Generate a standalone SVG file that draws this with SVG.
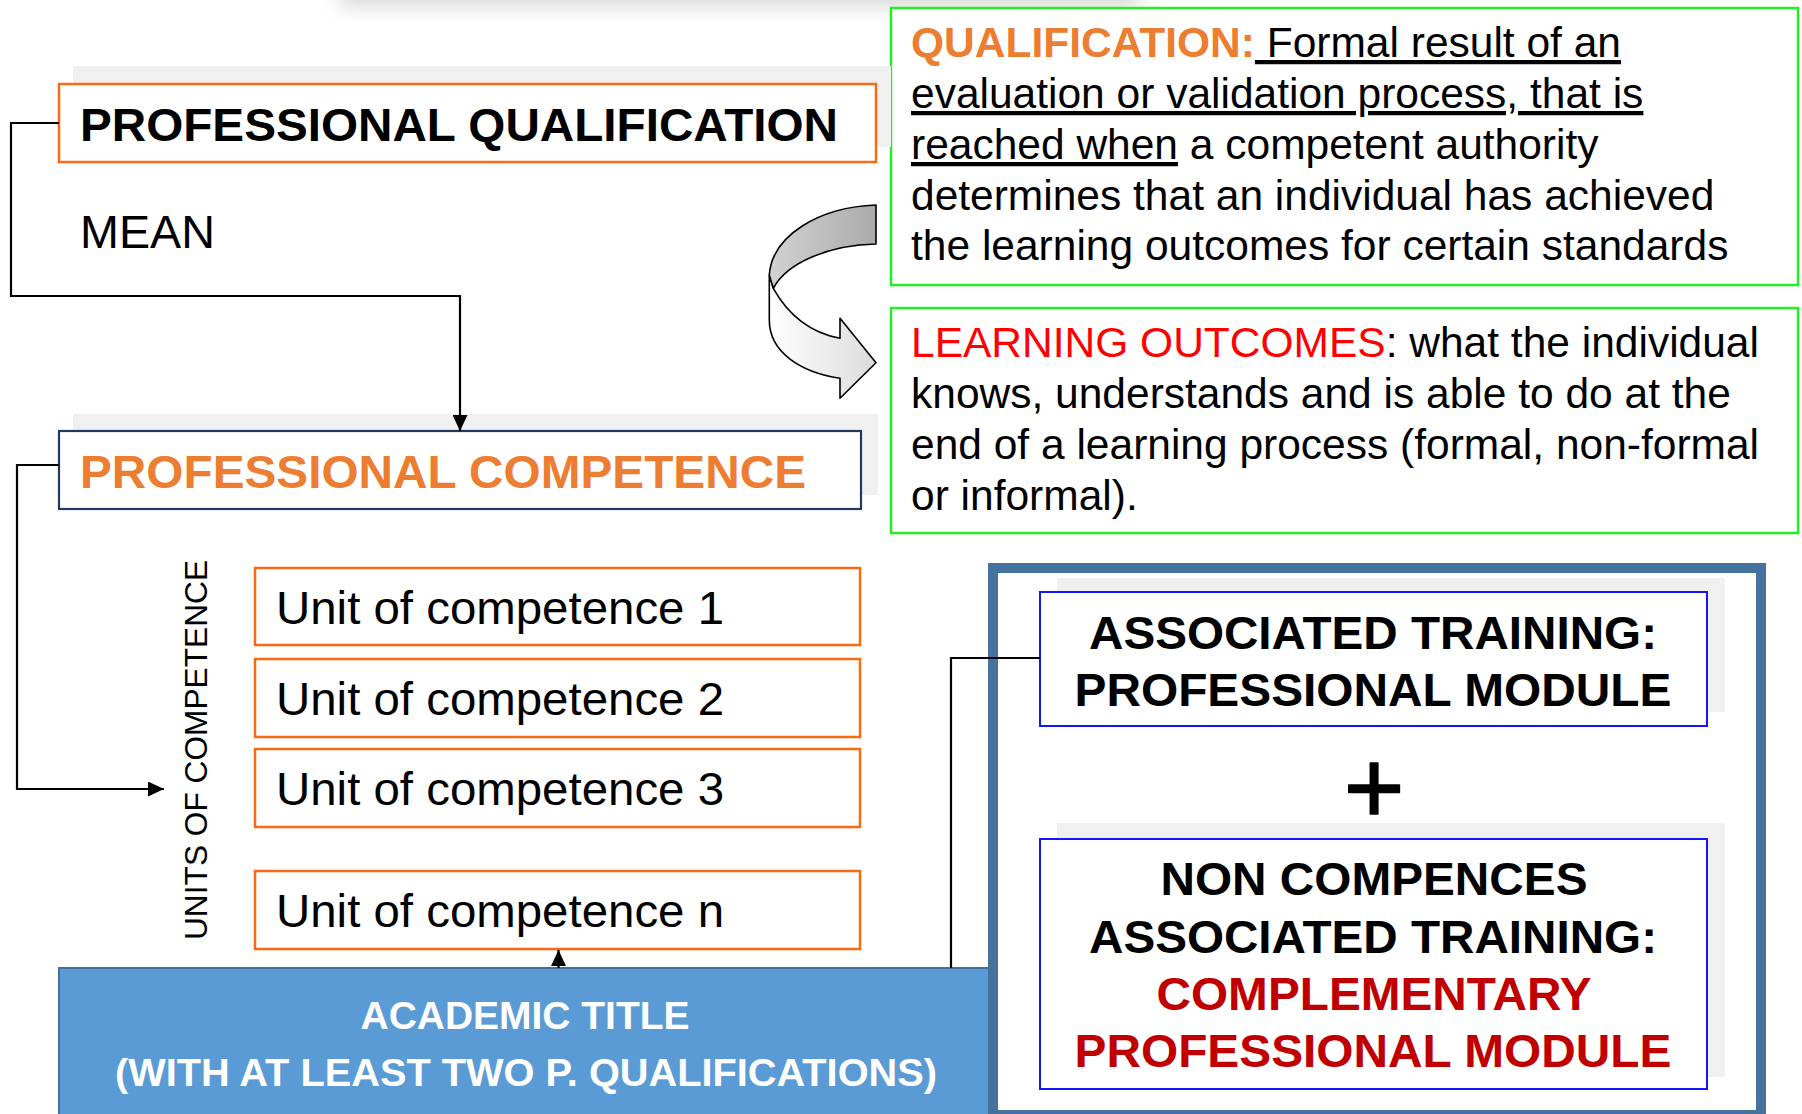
<svg xmlns="http://www.w3.org/2000/svg" width="1802" height="1114" viewBox="0 0 1802 1114">
<defs>
<style>
text{font-family:"Liberation Sans",Arial,sans-serif;}
.b{font-weight:bold;}
.shadow{fill:#F0F0F0;}
.orangebox{fill:#FFFFFF;stroke:#FA6A12;stroke-width:2.5;}
.greenbox{fill:#FFFFFF;stroke:#22F022;stroke-width:2.5;}
.bluebox{fill:#FFFFFF;stroke:#1414FF;stroke-width:2;}
.conn{fill:none;stroke:#000000;stroke-width:2.2;}
.t47{font-size:47px;}
.t42{font-size:42.5px;}
.orange{fill:#ED7D31;}
.dred{fill:#C00000;}
</style>
<marker id="ah" markerUnits="userSpaceOnUse" markerWidth="16" markerHeight="15" refX="16" refY="7.5" orient="auto">
<path d="M0,0 L16,7.5 L0,15 Z" fill="#000000"/>
</marker>
<linearGradient id="gTop" x1="0" y1="0" x2="1" y2="0">
<stop offset="0" stop-color="#D2D2D2"/>
<stop offset="1" stop-color="#ABABAB"/>
</linearGradient>
<linearGradient id="gLow" x1="0" y1="0" x2="1" y2="0">
<stop offset="0" stop-color="#FFFFFF"/>
<stop offset="1" stop-color="#DCDCDC"/>
</linearGradient>
<filter id="blur" x="-20%" y="-200%" width="140%" height="500%">
<feGaussianBlur stdDeviation="9"/>
</filter>
</defs>
<rect width="1802" height="1114" fill="#FFFFFF"/>
<rect x="340" y="-40" width="800" height="48" fill="#DCDCDC" filter="url(#blur)"/>

<g id="qualification-def">
<rect class="greenbox" x="891" y="8" width="907" height="277"/>
<text class="t42" x="911" y="57"><tspan class="b orange">QUALIFICATION:</tspan><tspan text-decoration="underline"> Formal result of an</tspan></text>
<text class="t42" x="911" y="108" text-decoration="underline">evaluation or validation process, that is</text>
<text class="t42" x="911" y="159"><tspan text-decoration="underline">reached when</tspan> a competent authority</text>
<text class="t42" x="911" y="210">determines that an individual has achieved</text>
<text class="t42" x="911" y="260">the learning outcomes for certain standards</text>
</g>

<g id="learning-outcomes-def">
<rect class="greenbox" x="891" y="308" width="907" height="225"/>
<text class="t42" x="911" y="357"><tspan fill="#FF0000">LEARNING OUTCOMES</tspan>: what the individual</text>
<text class="t42" x="911" y="408">knows, understands and is able to do at the</text>
<text class="t42" x="911" y="459">end of a learning process (formal, non-formal</text>
<text class="t42" x="911" y="510">or informal).</text>
</g>

<g id="curved-arrow" stroke="#000000" stroke-width="1.6" stroke-linejoin="round">
<path d="M840,338.3 L840,318.3 L876,362.7 L840,398.3 L840,378.3 C800,372 769.3,352 769.3,320 L769.3,275 L773.3,288.3 C790,318 812,333 840,338.3 Z" fill="url(#gLow)"/>
<path d="M876,205 C820,207 772,235 769.3,275 L773.3,288.3 C787,262 830,245 876,244 Z" fill="url(#gTop)"/>
</g>

<g id="professional-qualification">
<rect class="shadow" x="73" y="66" width="818" height="81"/>
<rect class="orangebox" x="59" y="84" width="817" height="78"/>
<text class="t47 b" x="80" y="141" textLength="758" lengthAdjust="spacingAndGlyphs">PROFESSIONAL QUALIFICATION</text>
</g>

<g id="mean-label">
<text class="t47" x="80" y="248" textLength="135" lengthAdjust="spacingAndGlyphs">MEAN</text>
</g>

<g id="professional-competence">
<rect class="shadow" x="73" y="414" width="805" height="81"/>
<rect x="59" y="431" width="802" height="78" fill="#FFFFFF" stroke="#1F3864" stroke-width="2.2"/>
<text class="t47 b orange" x="80" y="488" textLength="726" lengthAdjust="spacingAndGlyphs">PROFESSIONAL COMPETENCE</text>
</g>

<g id="units-label">
<text x="207" y="750" font-size="32" text-anchor="middle" textLength="380" lengthAdjust="spacingAndGlyphs" transform="rotate(-90 207 750)">UNITS OF COMPETENCE</text>
</g>

<g id="unit-1">
<rect class="orangebox" x="255" y="568" width="605" height="77"/>
<text class="t47" x="276" y="624" textLength="448" lengthAdjust="spacingAndGlyphs">Unit of competence 1</text>
</g>
<g id="unit-2">
<rect class="orangebox" x="255" y="659" width="605" height="78"/>
<text class="t47" x="276" y="715" textLength="448" lengthAdjust="spacingAndGlyphs">Unit of competence 2</text>
</g>
<g id="unit-3">
<rect class="orangebox" x="255" y="749" width="605" height="78"/>
<text class="t47" x="276" y="805" textLength="448" lengthAdjust="spacingAndGlyphs">Unit of competence 3</text>
</g>
<g id="unit-n">
<rect class="orangebox" x="255" y="871" width="605" height="78"/>
<text class="t47" x="276" y="927" textLength="448" lengthAdjust="spacingAndGlyphs">Unit of competence n</text>
</g>

<g id="academic-title">
<rect x="59" y="968" width="932" height="160" fill="#5B9BD5" stroke="#41719C" stroke-width="2"/>
<text x="525" y="1029" class="b" font-size="38" fill="#FFFFFF" text-anchor="middle" textLength="329" lengthAdjust="spacingAndGlyphs">ACADEMIC TITLE</text>
<text x="526" y="1086" class="b" font-size="38" fill="#FFFFFF" text-anchor="middle" textLength="822" lengthAdjust="spacingAndGlyphs">(WITH AT LEAST TWO P. QUALIFICATIONS)</text>
</g>

<g id="training-frame">
<rect x="993" y="568" width="768" height="547" fill="#FFFFFF" stroke="#44739F" stroke-width="10"/>
</g>

<g id="associated-training">
<rect class="shadow" x="1057" y="578" width="668" height="134"/>
<rect class="bluebox" x="1040" y="592" width="667" height="134"/>
<text class="t47 b" x="1373" y="649" text-anchor="middle" textLength="568" lengthAdjust="spacingAndGlyphs">ASSOCIATED TRAINING:</text>
<text class="t47 b" x="1373" y="706" text-anchor="middle" textLength="597" lengthAdjust="spacingAndGlyphs">PROFESSIONAL MODULE</text>
</g>

<g id="plus">
<text x="1374" y="823" font-size="104" text-anchor="middle" stroke="#000000" stroke-width="1.6" stroke-linejoin="round">+</text>
</g>

<g id="non-competences-training">
<rect class="shadow" x="1057" y="823" width="668" height="254"/>
<rect class="bluebox" x="1040" y="839" width="667" height="250"/>
<text class="t47 b" x="1374" y="895" text-anchor="middle" textLength="427" lengthAdjust="spacingAndGlyphs">NON COMPENCES</text>
<text class="t47 b" x="1373" y="953" text-anchor="middle" textLength="568" lengthAdjust="spacingAndGlyphs">ASSOCIATED TRAINING:</text>
<text class="t47 b dred" x="1374" y="1010" text-anchor="middle" textLength="435" lengthAdjust="spacingAndGlyphs">COMPLEMENTARY</text>
<text class="t47 b dred" x="1373" y="1067" text-anchor="middle" textLength="597" lengthAdjust="spacingAndGlyphs">PROFESSIONAL MODULE</text>
</g>

<g id="connectors">
<polyline class="conn" points="59,123 11,123 11,296 460,296 460,431" marker-end="url(#ah)"/>
<polyline class="conn" points="59,465 17,465 17,789 164,789" marker-end="url(#ah)"/>
<line class="conn" x1="558.5" y1="968" x2="558.5" y2="950" marker-end="url(#ah)"/>
<polyline class="conn" points="1040,658 951,658 951,968"/>
</g>
</svg>
